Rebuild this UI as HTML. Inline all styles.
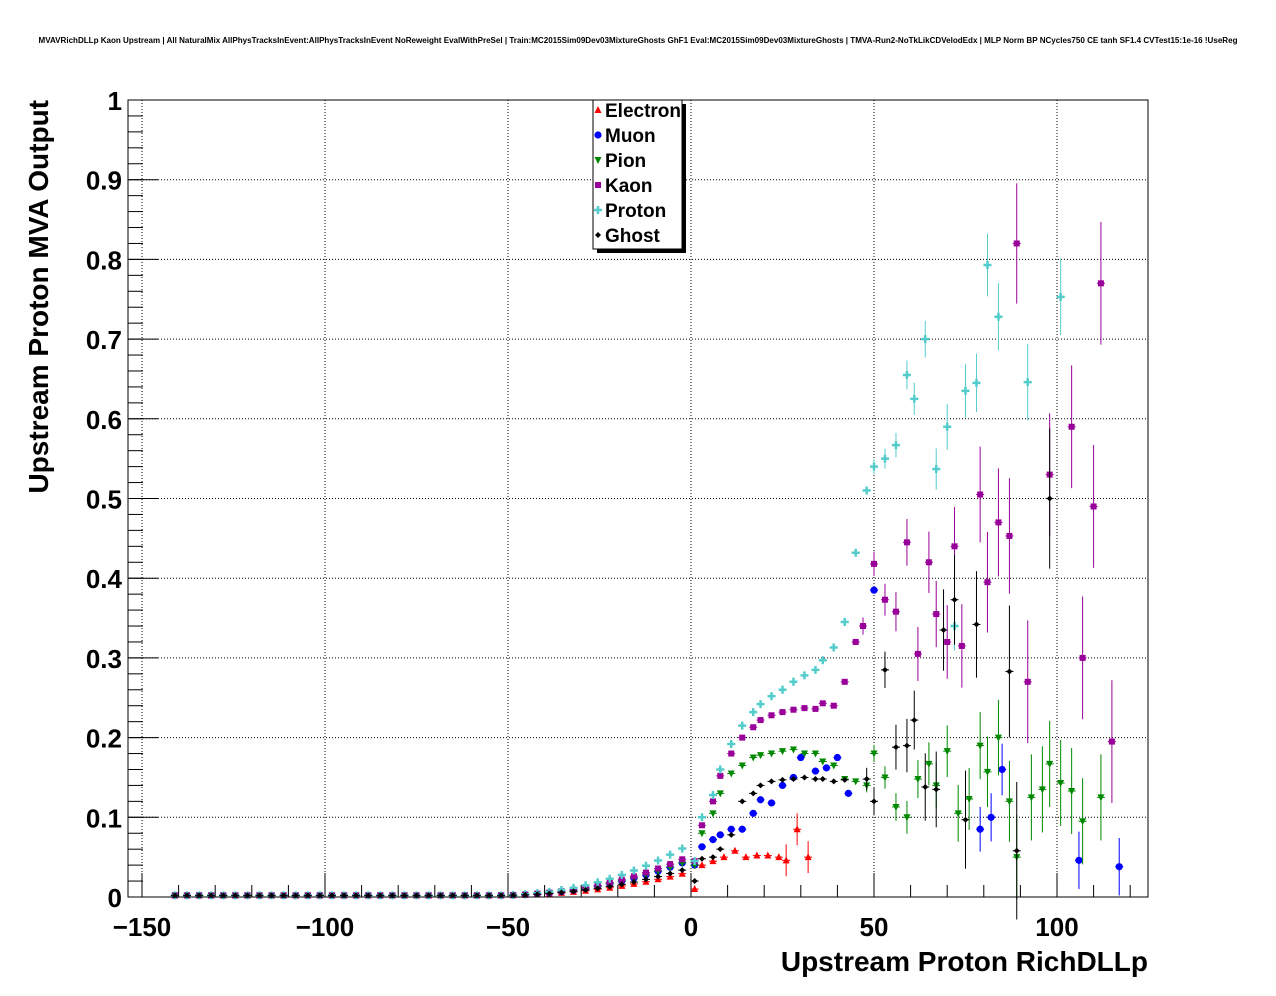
<!DOCTYPE html>
<html><head><meta charset="utf-8"><style>
body{margin:0;background:#fff;}
svg{display:block;font-family:"Liberation Sans",sans-serif;}
</style></head><body>
<svg id="s" width="1276" height="996" xmlns="http://www.w3.org/2000/svg">
<rect width="1276" height="996" fill="#fff"/>
<text x="638" y="43" font-size="8" font-weight="bold" text-anchor="middle" textLength="1199" lengthAdjust="spacingAndGlyphs">MVAVRichDLLp Kaon Upstream | All NaturalMix AllPhysTracksInEvent:AllPhysTracksInEvent NoReweight EvalWithPreSel | Train:MC2015Sim09Dev03MixtureGhosts GhF1 Eval:MC2015Sim09Dev03MixtureGhosts | TMVA-Run2-NoTkLikCDVelodEdx | MLP Norm BP NCycles750 CE tanh SF1.4 CVTest15:1e-16 !UseReg</text>
<g id="grid"></g>
<g id="data"></g>
<rect x="128" y="100" width="1020" height="797" fill="none" stroke="#000" stroke-width="1"/>
<g id="ticks"></g>
<text x="1148" y="971" font-size="28" font-weight="bold" text-anchor="end">Upstream Proton RichDLLp</text>
<text transform="translate(48,100) rotate(-90)" font-size="28" font-weight="bold" text-anchor="end">Upstream Proton MVA Output</text>
<rect x="597" y="104" width="89" height="149" fill="#000"/>
<rect x="593" y="100" width="89" height="149" fill="#fff" stroke="#000"/>
<g font-size="19" font-weight="bold">
<text x="605" y="117">Electron</text>
<text x="605" y="142">Muon</text>
<text x="605" y="167">Pion</text>
<text x="605" y="192">Kaon</text>
<text x="605" y="217">Proton</text>
<text x="605" y="242">Ghost</text>
</g>
<g id="leg"></g>
</svg>
<script>
const NS="http://www.w3.org/2000/svg";
const X=v=>691+v*3.66, Y=v=>897-v*797;
function el(p,t,a){const e=document.createElementNS(NS,t);for(const k in a)e.setAttribute(k,a[k]);p.appendChild(e);return e;}
const g=document.getElementById('grid'),tk=document.getElementById('ticks'),d=document.getElementById('data');
for(let v=-150;v<=100;v+=50){const x=X(v);if(x>128)el(g,'line',{x1:x,x2:x,y1:100,y2:897,stroke:'#000','stroke-dasharray':'1,2'});
 el(tk,'line',{x1:x,x2:x,y1:897,y2:873,stroke:'#000'});
 const t=el(tk,'text',{x:x,y:936,'font-size':26,'font-weight':'bold','text-anchor':'middle'});t.textContent=(v<0?'\u2212':'')+Math.abs(v);}
for(let v=-150;v<=125;v+=10){const x=X(v);if(x>=128&&x<=1148)el(tk,'line',{x1:x,x2:x,y1:897,y2:885,stroke:'#000'});}
for(let i=0;i<=10;i++){const y=Y(i/10);if(i>0&&i<10)el(g,'line',{x1:128,x2:1148,y1:y,y2:y,stroke:'#000','stroke-dasharray':'1,2'});
 el(tk,'line',{x1:128,x2:158,y1:y,y2:y,stroke:'#000'});
 const t=el(tk,'text',{x:122,y:y+10,'font-size':26,'font-weight':'bold','text-anchor':'end'});t.textContent=i==0?'0':i==10?'1':(i/10).toFixed(1);}
for(let i=0;i<50;i++){const y=Y(i/50);el(tk,'line',{x1:128,x2:143,y1:y,y2:y,stroke:'#000'});}
function mk(p,type,x,y,c){
 if(type==0)el(p,'polygon',{points:`${x-3.5},${y+3} ${x+3.5},${y+3} ${x},${y-4}`,fill:c});
 else if(type==1)el(p,'circle',{cx:x,cy:y,r:3.6,fill:c});
 else if(type==2)el(p,'polygon',{points:`${x-3.5},${y-3} ${x+3.5},${y-3} ${x},${y+4}`,fill:c});
 else if(type==3)el(p,'rect',{x:x-3,y:y-3,width:6,height:6,fill:c});
 else if(type==4)el(p,'path',{d:`M${x-4},${y}H${x+4}M${x},${y-4}V${y+4}`,stroke:c,'stroke-width':2.5});
 else el(p,'polygon',{points:`${x-3},${y} ${x},${y-3} ${x+3},${y} ${x},${y+3}`,fill:c});}
const cols=['#ff0000','#0000ff','#008800','#990099','#55cccc','#000000'];
const lg=document.getElementById('leg');for(let i=0;i<6;i++)mk(lg,i,598,110+25*i,cols[i]);
const scale=[0.03,0.03,0.045,0.035,0.04,0.04];
const S=[
[[1,0.01],[3,0.04],[6,0.045],[9,0.05],[12,0.058],[15,0.05],[18,0.052],[21,0.052],[24,0.05],[26,0.046],[29,0.085],[32,0.05]],
[[1,0.04],[3,0.063],[6,0.072],[8,0.078],[11,0.085],[14,0.085],[17,0.105],[19,0.122],[22,0.118],[25,0.14],[28,0.15],[30,0.175],[34,0.158],[37,0.162],[40,0.175],[43,0.13],[50,0.385],[79,0.085],[82,0.1],[85,0.16],[106,0.046],[117,0.038]],
[[1,0.04],[3,0.08],[6,0.105],[8,0.13],[11,0.155],[14,0.165],[17,0.175],[19,0.178],[22,0.18],[25,0.183],[28,0.185],[31,0.18],[34,0.18],[36,0.17],[39,0.165],[42,0.148],[45,0.145],[48,0.14],[50,0.18],[53,0.15],[56,0.113],[59,0.1],[62,0.148],[65,0.167],[67,0.14],[70,0.183],[73,0.105],[76,0.123],[79,0.19],[81,0.157],[84,0.2],[87,0.12],[89,0.05],[93,0.125],[96,0.135],[98,0.167],[101,0.143],[104,0.133],[107,0.095],[112,0.125]],
[[1,0.045],[3,0.09],[6,0.12],[8,0.152],[11,0.18],[14,0.2],[17,0.213],[19,0.222],[22,0.228],[25,0.232],[28,0.235],[31,0.237],[34,0.236],[36,0.243],[39,0.24],[42,0.27],[45,0.32],[47,0.34],[50,0.418],[53,0.373],[56,0.358],[59,0.445],[62,0.305],[65,0.42],[67,0.355],[70,0.32],[72,0.44],[74,0.315],[79,0.505],[81,0.395],[84,0.47],[87,0.453],[89,0.82],[92,0.27],[98,0.53],[104,0.59],[107,0.3],[110,0.49],[112,0.77],[115,0.195]],
[[1,0.045],[3,0.1],[6,0.128],[8,0.16],[11,0.192],[14,0.215],[17,0.232],[19,0.242],[22,0.252],[25,0.26],[28,0.27],[31,0.278],[34,0.285],[36,0.297],[39,0.313],[42,0.345],[45,0.432],[48,0.51],[50,0.54],[53,0.55],[56,0.567],[59,0.655],[61,0.625],[64,0.7],[67,0.537],[70,0.59],[72,0.34],[75,0.635],[78,0.645],[81,0.793],[84,0.728],[92,0.646],[101,0.753]],
[[1,0.02],[3,0.048],[6,0.05],[8,0.06],[11,0.078],[14,0.12],[17,0.13],[19,0.14],[22,0.145],[25,0.147],[28,0.148],[31,0.15],[34,0.148],[36,0.148],[39,0.145],[42,0.147],[48,0.148],[50,0.12],[53,0.285],[56,0.188],[59,0.19],[61,0.222],[64,0.138],[67,0.135],[69,0.335],[72,0.373],[75,0.097],[78,0.342],[87,0.283],[89,0.058],[98,0.5]]];
const endv=[0.03,0.045,0.045,0.05,0.065,0.035];
for(let s=0;s<6;s++){
 const pts=[];
 for(let x=-141;x<0;x+=3.3){const t=Math.max(0,(x+55)/55);pts.push([x,0.002+endv[s]*Math.pow(t,2.2)]);}
 S[s].forEach(p=>pts.push(p));
 for(const [x,y] of pts){const px=X(x),py=Y(y);
  let e=x>40?scale[s]*Math.min(1,(x-40)/50)*(s==3||s==5?2.2:1.2):(x>25&&s==0?0.02:0);
  if(e>0.008)el(d,'line',{x1:px,x2:px,y1:Y(y-e),y2:Y(y+e),stroke:cols[s]});
  el(d,'line',{x1:px-4,x2:px+4,y1:py,y2:py,stroke:cols[s]});
  mk(d,s,px,py,cols[s]);}
}
</script>
</body></html>
